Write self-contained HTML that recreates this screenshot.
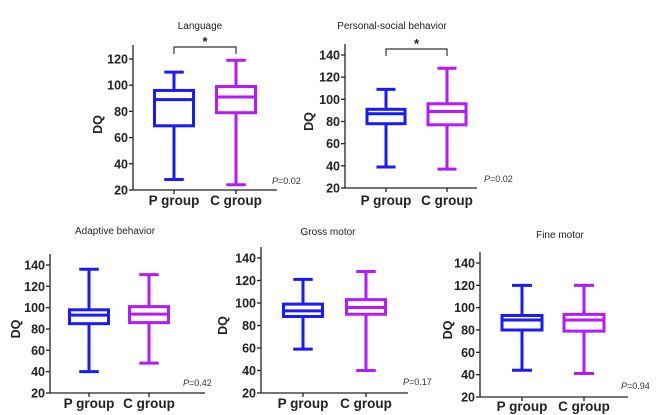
<!DOCTYPE html>
<html><head><meta charset="utf-8">
<style>
html,body{margin:0;padding:0;background:#fff;}
svg{display:block;font-family:"Liberation Sans",Arial,sans-serif;}
</style></head>
<body>
<svg id="chart" width="669" height="415" viewBox="0 0 669 415" xmlns="http://www.w3.org/2000/svg"></svg>
<script>
// ---- data ----
const panelTitles = ["Language","Personal-social behavior","Adaptive behavior","Gross motor","Fine motor"];
const groups = ["P group","C group"];
const pValues = ["0.02","0.02","0.42","0.17","0.94"];
// [min, q1, median, q3, max] per panel
const pGroupStats = [[28,69,89,96,110],[39,78,87,91,109],[40,85,93,98,136],[59,88,93,99,121],[44,80,89,93,120]];
const cGroupStats = [[24,79,91,99,119],[37,77,89,96,128],[48,86,94,101,131],[40,90,96,103,128],[41,79,89,94,120]];
const yTicksSmall = [20,40,60,80,100,120];
const yTicksLarge = [20,40,60,80,100,120,140];
const significant = [true,true,false,false,false];

// ---- layout (geometry only) ----
const layouts = [
 {ax:133, top:45, xEnd:277, c:[174,236], bw:39, tx:200, ty:29, dqx:102, px:272, py:184, lby:205, bry:47, ticks:yTicksSmall},
 {ax:345, top:44, xEnd:477, c:[386,447], bw:38, tx:392, ty:29, dqx:313, px:484, py:182, lby:205, bry:49, ticks:yTicksLarge},
 {ax:50, top:254, xEnd:205, c:[89,149], bw:39, tx:115, ty:234, dqx:20, px:183, py:386, lby:408, bry:0, ticks:yTicksLarge},
 {ax:261, top:247, xEnd:408, c:[303,366], bw:39, tx:328, ty:235, dqx:227, px:403, py:385, lby:408, bry:0, ticks:yTicksLarge},
 {ax:480, top:252, xEnd:628, c:[522,584], bw:40, tx:560, ty:238, dqx:452, px:621, py:389, lby:411, bry:0, ticks:yTicksLarge}
];
// pixel y of lowest tick and highest tick per panel
const yPix = {0:[190,59],1:[188,55],2:[393,265],3:[393,258],4:[397,263]};
const colors = ["#1a1aff","#b31aff"];
const NS="http://www.w3.org/2000/svg";
const svg=document.getElementById('chart');
function mk(tag,attrs,parent){const e=document.createElementNS(NS,tag);for(const k in attrs)e.setAttribute(k,attrs[k]);(parent||svg).appendChild(e);return e;}

layouts.forEach((L,i)=>{
  const g=mk('g',{});
  
  
  const [p20,pTop]=yPix[i];
  const tMin=L.ticks[0], tMax=L.ticks[L.ticks.length-1];
  const y=v=>p20-(v-tMin)*(p20-pTop)/(tMax-tMin);
  const t=mk('text',{x:L.tx,y:L.ty,'font-size':10,'text-anchor':'middle',fill:'#222'},g);
  t.textContent=panelTitles[i];
  
  
  const ya=mk('line',{x1:L.ax,y1:L.top,x2:L.ax,y2:p20,stroke:'#222','stroke-width':1.3},g);
  
  
  const xa=mk('line',{x1:L.ax,y1:p20,x2:L.xEnd,y2:p20,stroke:'#222','stroke-width':1.3},g);
  
  
  L.ticks.forEach(v=>{
    mk('line',{x1:L.ax-4,y1:y(v),x2:L.ax,y2:y(v),stroke:'#222','stroke-width':1.3},g);
    const tl=mk('text',{x:L.ax-5,y:y(v)+4.5,'font-size':12.5,'font-weight':'bold','text-anchor':'end',fill:'#222'},g);
    tl.textContent=v;
    
    
  });
  const my=(p20+pTop)/2;
  const dq=mk('text',{x:L.dqx,y:my,'font-size':12.5,'font-weight':'bold','text-anchor':'middle',fill:'#222',transform:`rotate(-90 ${L.dqx} ${my})`},g);
  dq.textContent='DQ';
  
  
  [pGroupStats[i],cGroupStats[i]].forEach((s,j)=>{
    const cx=L.c[j],hw=L.bw/2,col=colors[j];
    mk('line',{x1:cx,y1:p20,x2:cx,y2:p20+4,stroke:'#222','stroke-width':1.3},g);
    const gl=mk('text',{x:cx,y:L.lby,'font-size':13.5,'font-weight':'bold','text-anchor':'middle',fill:'#222'},g);
    gl.textContent=groups[j];
    
    
    const bx=mk('g',{stroke:col,'stroke-width':3,fill:'none'},g);
    
    
    mk('line',{x1:cx,y1:y(s[0]),x2:cx,y2:y(s[1])},bx);
    mk('line',{x1:cx,y1:y(s[3]),x2:cx,y2:y(s[4])},bx);
    mk('line',{x1:cx-hw/2,y1:y(s[0]),x2:cx+hw/2,y2:y(s[0])},bx);
    mk('line',{x1:cx-hw/2,y1:y(s[4]),x2:cx+hw/2,y2:y(s[4])},bx);
    mk('rect',{x:cx-hw,y:y(s[3]),width:2*hw,height:y(s[1])-y(s[3])},bx);
    mk('line',{x1:cx-hw,y1:y(s[2]),x2:cx+hw,y2:y(s[2])},bx);
  });
  if(significant[i]){
    const by=L.bry;
    const br=mk('path',{d:`M${L.c[0]} ${by+7}V${by}H${L.c[1]}V${by+7}`,stroke:'#333','stroke-width':1.2,fill:'none'},g);
    
    
    const st=mk('text',{x:(L.c[0]+L.c[1])/2,y:by-1,'font-size':13,'font-weight':'bold','text-anchor':'middle',fill:'#222'},g);
    st.textContent='*';
    
    
  }
  const pv=mk('text',{x:L.px,y:L.py,'font-size':9,fill:'#333'},g);
  pv.innerHTML='<tspan font-style="italic">P</tspan>='+pValues[i];
  
  
});
</script>
</body></html>
